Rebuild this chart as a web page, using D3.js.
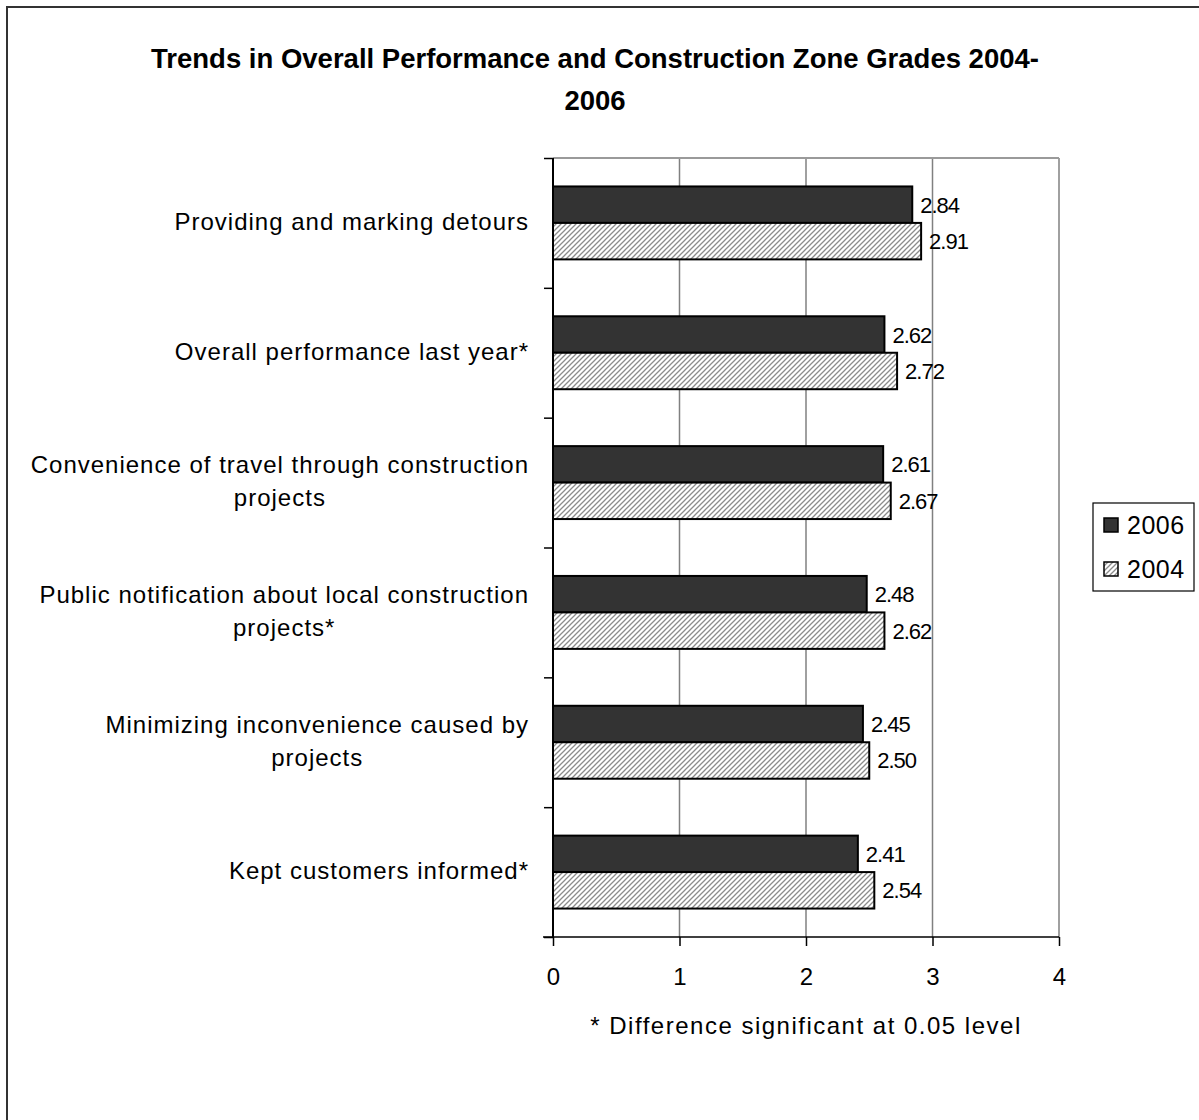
<!DOCTYPE html>
<html><head><meta charset="utf-8">
<script src="https://cdn.jsdelivr.net/npm/d3@7"></script>
<style>body{margin:0;background:#fff;} svg{display:block;font-family:"Liberation Sans",Arial,sans-serif;}</style>
</head><body>
<script>
const categories = [
  ["Providing and marking detours"],
  ["Overall performance last year*"],
  ["Convenience of travel through construction", "projects"],
  ["Public notification about local construction", "projects*"],
  ["Minimizing inconvenience caused by", "projects"],
  ["Kept customers informed*"]
];
const seriesNames = ["2006", "2004"];
const values2006 = [2.84, 2.62, 2.61, 2.48, 2.45, 2.41];
const values2004 = [2.91, 2.72, 2.67, 2.62, 2.50, 2.54];
const xTicks = [0, 1, 2, 3, 4];
const titleLines = ["Trends in Overall Performance and Construction Zone Grades 2004-", "2006"];
const footnote = "* Difference significant at 0.05 level";

const W = 1199, H = 1120;
const svg = d3.select("body").append("svg").attr("width", W).attr("height", H);
const defs = svg.append("defs");
const pat = defs.append("pattern").attr("id", "hatch").attr("patternUnits", "userSpaceOnUse")
  .attr("width", 5).attr("height", 5);
pat.append("rect").attr("width", 5).attr("height", 5).attr("fill", "#fff");
pat.append("path").attr("d", "M-1,6 L6,-1 M-2,2 L2,-2 M3,7 L7,3").attr("stroke", "#8c8c8c").attr("stroke-width", 1.3);

// outer frame
svg.append("rect").attr("x", 7).attr("y", 7).attr("width", 1400).attr("height", 1400)
  .attr("fill", "none").attr("stroke", "#333").attr("stroke-width", 2);

const m = {left: 553, right: 1059, top: 158, bottom: 937};
const x = d3.scaleLinear().domain([0, 4]).range([m.left, m.right]);
const y = d3.scaleBand().domain(d3.range(categories.length)).range([m.top, m.bottom]);
const inner = d3.scaleBand().domain(seriesNames).range([0, y.bandwidth()]).paddingInner(0).paddingOuter(0.78);

// title
svg.append("g").selectAll("text").data(titleLines).join("text")
  .attr("x", 595).attr("y", (d, i) => 68 + i * 42)
  .attr("text-anchor", "middle").attr("font-weight", "bold").attr("font-size", 27.5).attr("fill", "#000")
  .text(d => d);

// gridlines
svg.append("g").selectAll("line").data(xTicks.slice(1)).join("line")
  .attr("x1", d => x(d)).attr("x2", d => x(d)).attr("y1", m.top).attr("y2", m.bottom)
  .attr("stroke", "#808080").attr("stroke-width", 1.5);
svg.append("line").attr("x1", m.left).attr("x2", m.right).attr("y1", m.top).attr("y2", m.top)
  .attr("stroke", "#9a9a9a").attr("stroke-width", 2);

const data = categories.map((c, i) => ({i, vals: [values2006[i], values2004[i]]}));
const fills = ["#333333", "url(#hatch)"];

const g = svg.append("g");
data.forEach(d => {
  d.vals.forEach((v, k) => {
    const yy = y(d.i) + inner(seriesNames[k]);
    g.append("rect").attr("x", x(0)).attr("y", yy).attr("width", x(v) - x(0)).attr("height", inner.bandwidth())
      .attr("fill", fills[k]).attr("stroke", "#000").attr("stroke-width", 2);
    g.append("text").attr("x", x(v) + 8).attr("y", yy + inner.bandwidth() / 2 + 8)
      .attr("font-size", 22).attr("letter-spacing", -1).attr("fill", "#000").text(v.toFixed(2));
  });
});

// y axis
const yAxis = d3.axisLeft(d3.scaleLinear().domain([0, categories.length]).range([m.top, m.bottom]))
  .tickValues(d3.range(categories.length + 1)).tickSize(9).tickFormat("");
const ya = svg.append("g").attr("transform", `translate(${m.left},0)`).call(yAxis);
ya.select(".domain").attr("stroke", "#000").attr("stroke-width", 2).attr("d", `M0,${m.top}V${m.bottom}`);
ya.selectAll(".tick line").attr("stroke", "#000").attr("stroke-width", 1.5);

// x axis
const xAxis = d3.axisBottom(x).tickValues(xTicks).tickSize(9).tickFormat(d3.format("d")).tickPadding(22);
const xa = svg.append("g").attr("transform", `translate(0,${m.bottom})`).call(xAxis);
xa.select(".domain").attr("stroke", "#000").attr("stroke-width", 1.5).attr("d", `M${m.left - 10},0H${m.right}`);
xa.selectAll(".tick line").attr("stroke", "#000").attr("stroke-width", 1.5);
xa.selectAll(".tick text").attr("font-size", 24).attr("fill", "#000").attr("font-family", "Liberation Sans, Arial, sans-serif");

// category labels
const labG = svg.append("g");
categories.forEach((lines, i) => {
  const cy = y(i) + y.bandwidth() / 2;
  const lh = 33;
  const t = labG.append("text").attr("font-size", 24).attr("letter-spacing", 1).attr("fill", "#000").attr("text-anchor", "middle");
  lines.forEach((ln, j) => {
    t.append("tspan").attr("x", 0).attr("y", cy + 7 + (j - (lines.length - 1) / 2) * lh).text(ln);
  });
  const bb = t.node().getBBox();
  t.attr("transform", `translate(${529 - bb.width / 2},0)`);
});

// footnote
svg.append("text").attr("x", 806).attr("y", 1034).attr("text-anchor", "middle")
  .attr("font-size", 24).attr("letter-spacing", 1.5).attr("fill", "#000").text(footnote);

// legend
const lg = svg.append("g");
lg.append("rect").attr("x", 1093).attr("y", 503).attr("width", 101).attr("height", 88)
  .attr("fill", "#fff").attr("stroke", "#000").attr("stroke-width", 1.2);
seriesNames.forEach((s, k) => {
  const yy = 525 + k * 44;
  lg.append("rect").attr("x", 1104).attr("y", yy - 7).attr("width", 14).attr("height", 14)
    .attr("fill", fills[k]).attr("stroke", "#000").attr("stroke-width", 1.5);
  lg.append("text").attr("x", 1127).attr("y", yy + 9).attr("font-size", 25).attr("letter-spacing", 0.5).attr("fill", "#000").text(s);
});
</script>
</body></html>
